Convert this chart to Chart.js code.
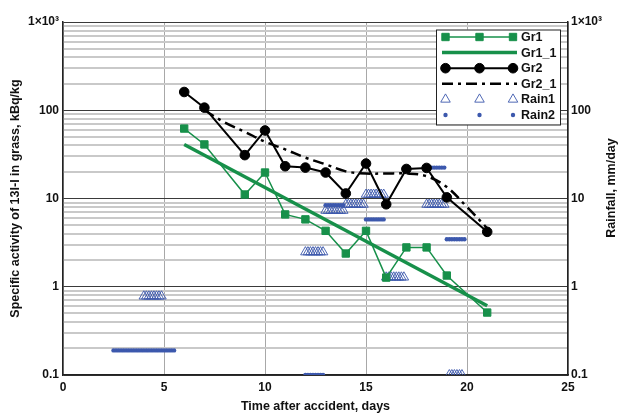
<!DOCTYPE html>
<html lang="en">
<head>
  <meta charset="UTF-8" />
  <title>131-I in grass and rainfall</title>
  <style>
    body { margin: 0; background: #fff; }
    #wrap { width: 620px; height: 414px; }
  </style>
</head>
<body>
  <div id="wrap">
    <canvas id="grassChart" width="620" height="414"></canvas>
  </div>
  <script src="https://cdn.jsdelivr.net/npm/chart.js"></script>
  <script>
    // days of sampling for both grass groups
    const grDays = [6, 7, 9, 10, 11, 12, 13, 14, 15, 16, 17, 18, 19, 21];
    const gr1Values = [62, 41, 11.1, 19.7, 6.6, 5.8, 4.3, 2.38, 4.3, 1.27, 2.79, 2.79, 1.34, 0.51];
    const gr2Values = [161, 107, 31, 59, 23.2, 22.4, 19.7, 11.4, 24.9, 8.6, 21.6, 22.2, 10.3, 4.19];

    // fitted curves
    const gr1FitDays = [6, 21];
    const gr1FitValues = [41, 0.61];
    const gr2FitDays = [7, 8, 9, 10, 11, 12, 13, 14, 15, 16, 17, 18, 19, 20, 21];
    const gr2FitValues = [100, 73, 57, 44, 36, 29, 24.4, 20.3, 19.2, 19.2, 19.2, 17.9, 13.5, 8, 4.6];

    // rainfall, 3-hourly readings (mm/day)
    const rain1Days = [
      4, 4.125, 4.25, 4.375, 4.5, 4.625, 4.75, 4.875,
      12, 12.125, 12.25, 12.375, 12.5, 12.625, 12.75, 12.875,
      13, 13.125, 13.25, 13.375, 13.5, 13.625, 13.75, 13.875,
      14, 14.125, 14.25, 14.375, 14.5, 14.625, 14.75, 14.875,
      15, 15.125, 15.25, 15.375, 15.5, 15.625, 15.75, 15.875,
      16, 16.125, 16.25, 16.375, 16.5, 16.625, 16.75, 16.875,
      18, 18.125, 18.25, 18.375, 18.5, 18.625, 18.75, 18.875,
      19.125, 19.25, 19.375, 19.5, 19.625, 19.75
    ];
    const rain1Values = [
      0.78, 0.78, 0.78, 0.78, 0.78, 0.78, 0.78, 0.78,
      2.47, 2.47, 2.47, 2.47, 2.47, 2.47, 2.47, 2.47,
      7.3, 7.3, 7.3, 7.3, 7.3, 7.3, 7.3, 7.3,
      8.55, 8.55, 8.55, 8.55, 8.55, 8.55, 8.55, 8.55,
      11.1, 11.1, 11.1, 11.1, 11.1, 11.1, 11.1, 11.1,
      1.28, 1.28, 1.28, 1.28, 1.28, 1.28, 1.28, 1.28,
      8.55, 8.55, 8.55, 8.55, 8.55, 8.55, 8.55, 8.55,
      0.1, 0.1, 0.1, 0.1, 0.1, 0.1
    ];
    const rain2Days = [
      2.5, 2.625, 2.75, 2.875, 3, 3.125, 3.25, 3.375, 3.5, 3.625, 3.75, 3.875,
      4, 4.125, 4.25, 4.375, 4.5, 4.625, 4.75, 4.875, 5, 5.125, 5.25, 5.375, 5.5,
      12, 12.125, 12.25, 12.375, 12.5, 12.625, 12.75, 12.875,
      13, 13.125, 13.25, 13.375, 13.5, 13.625, 13.75, 13.875,
      15, 15.125, 15.25, 15.375, 15.5, 15.625, 15.75, 15.875,
      18, 18.125, 18.25, 18.375, 18.5, 18.625, 18.75, 18.875,
      19, 19.125, 19.25, 19.375, 19.5, 19.625, 19.75, 19.875
    ];
    const rain2Values = [
      0.19, 0.19, 0.19, 0.19, 0.19, 0.19, 0.19, 0.19, 0.19, 0.19, 0.19, 0.19,
      0.19, 0.19, 0.19, 0.19, 0.19, 0.19, 0.19, 0.19, 0.19, 0.19, 0.19, 0.19, 0.19,
      0.1, 0.1, 0.1, 0.1, 0.1, 0.1, 0.1, 0.1,
      8.4, 8.4, 8.4, 8.4, 8.4, 8.4, 8.4, 8.4,
      5.8, 5.8, 5.8, 5.8, 5.8, 5.8, 5.8, 5.8,
      22.4, 22.4, 22.4, 22.4, 22.4, 22.4, 22.4, 22.4,
      3.46, 3.46, 3.46, 3.46, 3.46, 3.46, 3.46, 3.46
    ];

    // axis ticks
    const xTicks = [0, 5, 10, 15, 20, 25];
    const yDecades = [0.1, 1, 10, 100, 1000];
    const yDecadeLabels = ['0.1', '1', '10', '100', '1\u00d710\u00b3'];

    const GREEN = '#17904a';
    const BLUE = '#3c58ad';
    const FONT = "'Liberation Sans', Arial, sans-serif";

    function pts(xs, ys) {
      return xs.map((x, i) => ({ x: x, y: ys[i] }));
    }

    function isDecade(v) {
      const l = Math.log10(v);
      return Math.abs(l - Math.round(l)) < 1e-6;
    }

    function decadeLabel(v) {
      const i = yDecades.findIndex(d => Math.abs(Math.log10(d) - Math.log10(v)) < 1e-6);
      return i >= 0 ? yDecadeLabels[i] : '';
    }

    // grid positions 1..9 x 10^n between the decades
    function logGridTicks() {
      const ticks = [];
      for (let d = 0; d < yDecades.length - 1; d++) {
        for (let m = 1; m < 10; m++) {
          ticks.push({ value: +(yDecades[d] * m).toPrecision(6), major: m === 1 });
        }
      }
      ticks.push({ value: yDecades[yDecades.length - 1], major: true });
      return ticks;
    }

    // legend in the top right corner, drawn like the original one
    const boxLegend = {
      id: 'boxLegend',
      afterDraw(chart) {
        const ctx = chart.ctx;
        const area = chart.chartArea;
        const left = area.right - 132;
        const top = area.top + 7.5;
        const w = 124, h = 95;
        ctx.save();
        ctx.fillStyle = '#fff';
        ctx.fillRect(left, top, w, h);
        ctx.strokeStyle = '#222';
        ctx.lineWidth = 1;
        ctx.strokeRect(left + 0.5, top + 0.5, w, h);
        ctx.font = 'bold 12.5px ' + FONT;
        ctx.textBaseline = 'middle';
        chart.data.datasets.forEach((ds, i) => {
          const y = top + 7.5 + i * 15.6;
          const x0 = left + 6, x1 = left + 81;
          if (ds.showLine !== false) {
            ctx.save();
            ctx.strokeStyle = ds.borderColor;
            ctx.lineWidth = ds.borderWidth;
            ctx.setLineDash(ds.borderDash || []);
            ctx.beginPath();
            ctx.moveTo(x0, y);
            ctx.lineTo(x1, y);
            ctx.stroke();
            ctx.restore();
          }
          if (ds.pointRadius > 0) {
            [left + 9.5, left + 43.5, left + 77].forEach(mx => {
              ctx.save();
              ctx.fillStyle = ds.backgroundColor;
              ctx.strokeStyle = ds.borderColor;
              ctx.lineWidth = ds.pointBorderWidth;
              Chart.helpers.drawPoint(ctx, {
                pointStyle: ds.pointStyle,
                radius: ds.pointRadius,
                borderWidth: ds.pointBorderWidth,
                rotation: 0
              }, mx, y);
              ctx.restore();
            });
          }
          ctx.fillStyle = '#111';
          ctx.textAlign = 'left';
          ctx.fillText(ds.label, left + 85, y + 0.5);
        });
        ctx.restore();
      }
    };

    // right axis title reads bottom to top
    const rightTitle = {
      id: 'rightTitle',
      afterDraw(chart) {
        const ctx = chart.ctx;
        ctx.save();
        ctx.translate(612, 188);
        ctx.rotate(-Math.PI / 2);
        ctx.font = 'bold 12.5px ' + FONT;
        ctx.fillStyle = '#111';
        ctx.textAlign = 'center';
        ctx.textBaseline = 'middle';
        ctx.fillText('Rainfall, mm/day', 0, 0);
        ctx.restore();
      }
    };

    const ctx = document.getElementById('grassChart').getContext('2d');
    const grassChart = new Chart(ctx, {
      type: 'line',
      data: {
        datasets: [
          {
            label: 'Gr1',
            data: pts(grDays, gr1Values),
            borderColor: GREEN,
            backgroundColor: GREEN,
            borderWidth: 1.5,
            pointStyle: 'rect',
            pointRadius: 5.2,
            pointBorderWidth: 1,
            yAxisID: 'y'
          },
          {
            label: 'Gr1_1',
            data: pts(gr1FitDays, gr1FitValues),
            borderColor: GREEN,
            backgroundColor: GREEN,
            borderWidth: 3.5,
            pointRadius: 0,
            yAxisID: 'y'
          },
          {
            label: 'Gr2',
            data: pts(grDays, gr2Values),
            borderColor: '#000',
            backgroundColor: '#000',
            borderWidth: 2,
            pointStyle: 'circle',
            pointRadius: 4.8,
            pointBorderWidth: 1,
            yAxisID: 'y'
          },
          {
            label: 'Gr2_1',
            data: pts(gr2FitDays, gr2FitValues),
            borderColor: '#000',
            backgroundColor: '#000',
            borderWidth: 2.5,
            borderDash: [11, 5, 3, 5],
            pointRadius: 0,
            tension: 0.35,
            yAxisID: 'y'
          },
          {
            label: 'Rain1',
            data: pts(rain1Days, rain1Values),
            showLine: false,
            borderColor: BLUE,
            backgroundColor: 'rgba(0,0,0,0)',
            pointStyle: 'triangle',
            pointRadius: 5.5,
            pointBorderWidth: 0.9,
            clip: 0,
            yAxisID: 'y2'
          },
          {
            label: 'Rain2',
            data: pts(rain2Days, rain2Values),
            showLine: false,
            borderColor: BLUE,
            backgroundColor: BLUE,
            pointStyle: 'circle',
            pointRadius: 2.2,
            pointBorderWidth: 0,
            clip: 0,
            yAxisID: 'y2'
          }
        ]
      },
      options: {
        responsive: false,
        animation: false,
        layout: { padding: { top: 22, left: 0, right: 0, bottom: 0 } },
        plugins: {
          legend: { display: false },
          tooltip: { enabled: false }
        },
        scales: {
          x: {
            type: 'linear',
            min: 0,
            max: 25,
            afterBuildTicks: (scale) => { scale.ticks = xTicks.map(v => ({ value: v })); },
            afterFit: (scale) => { scale.height = 39; },
            ticks: {
              padding: 5,
              color: '#111',
              font: { family: FONT, size: 12, weight: 'bold' }
            },
            grid: { color: '#a8a8a8', lineWidth: 1, drawTicks: false },
            border: { display: true, color: '#222', width: 1.5 },
            title: {
              display: true,
              text: 'Time after accident, days',
              color: '#111',
              padding: { top: 0, bottom: 0 },
              font: { family: FONT, size: 12.5, weight: 'bold' }
            }
          },
          y: {
            type: 'logarithmic',
            position: 'left',
            min: 0.1,
            max: 1000,
            afterBuildTicks: (scale) => { scale.ticks = logGridTicks(); },
            afterFit: (scale) => { scale.width = 63; },
            ticks: {
              autoSkip: false,
              padding: 4,
              color: '#111',
              font: { family: FONT, size: 12, weight: 'bold' },
              callback: (v) => decadeLabel(v)
            },
            grid: {
              drawTicks: false,
              color: (c) => isDecade(c.tick.value) ? '#3a3a3a' : '#c9c9c9',
              lineWidth: (c) => isDecade(c.tick.value) ? 1 : 2
            },
            border: { display: true, color: '#222', width: 1.5 },
            title: {
              display: true,
              text: 'Specific activity of 13I-I in grass, kBq/kg',
              color: '#111',
              padding: { top: 8, bottom: 0 },
              font: { family: FONT, size: 12.5, weight: 'bold' }
            }
          },
          y2: {
            type: 'logarithmic',
            position: 'right',
            min: 0.1,
            max: 1000,
            afterBuildTicks: (scale) => { scale.ticks = yDecades.map(v => ({ value: v, major: true })); },
            afterFit: (scale) => { scale.width = 52; },
            ticks: {
              autoSkip: false,
              padding: 3,
              color: '#111',
              font: { family: FONT, size: 12, weight: 'bold' },
              callback: (v) => decadeLabel(v)
            },
            grid: { drawOnChartArea: false, drawTicks: false },
            border: { display: true, color: '#222', width: 1.5 }
          }
        }
      },
      plugins: [boxLegend, rightTitle]
    });
  </script>
</body>
</html>
